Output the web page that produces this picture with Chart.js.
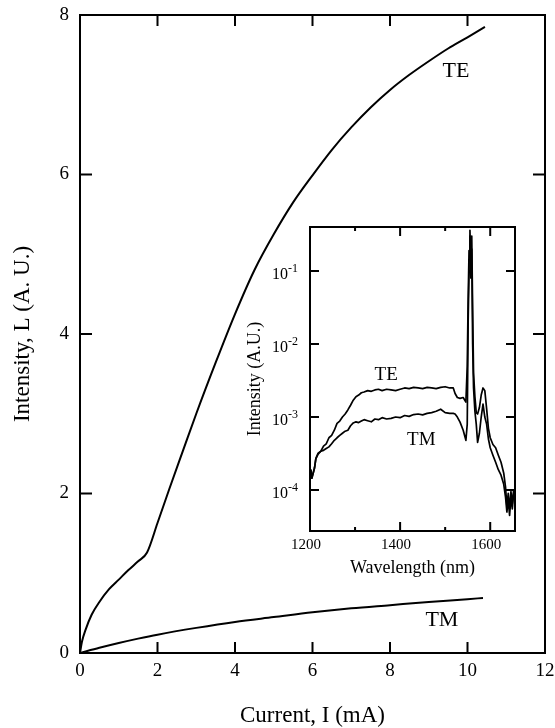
<!DOCTYPE html>
<html><head><meta charset="utf-8">
<script src="https://cdn.jsdelivr.net/npm/chart.js@4/dist/chart.umd.min.js"></script>
<style>
html,body{margin:0;padding:0;background:#fff;}
#wrap{position:relative;width:555px;height:728px;overflow:hidden;}
#main{position:absolute;left:0;top:0;}
#inset{position:absolute;left:230px;top:200px;}
</style></head><body>
<div id="wrap"><canvas id="main" width="555" height="728"></canvas><canvas id="inset" width="300" height="390"></canvas></div>
<script>
// ---------- main plot data ----------
const mainXTicks = [0, 2, 4, 6, 8, 10, 12];
const mainYTicks = [0, 2, 4, 6, 8];
const teCurrent = [0,0.05,0.15,0.3,0.5,0.75,1.0,1.25,1.5,1.73,2.0,2.3,2.66,3.0,3.5,4.0,4.5,5.0,5.5,6.0,6.5,7.0,7.5,8.0,8.5,9.0,9.5,10.0,10.45];
const teIntensity = [0,0.14,0.30,0.48,0.64,0.80,0.92,1.04,1.15,1.26,1.63,2.05,2.54,3.00,3.64,4.25,4.80,5.25,5.65,5.99,6.31,6.59,6.84,7.06,7.25,7.42,7.58,7.72,7.85];
const tmCurrent = [0,0.5,1,1.5,2,3,4,5,6,7,8,9,10,10.4];
const tmIntensity = [0,0.065,0.125,0.18,0.23,0.315,0.39,0.45,0.51,0.56,0.60,0.64,0.675,0.69];

// ---------- inset data ----------
const insetXTicks = [1200, 1300, 1400, 1500, 1600];
const insetXLabels = [1200, 1400, 1600];
const insetYTicks = [1e-4, 1e-3, 1e-2, 1e-1];
const wavelength = [1202,1204,1207,1210,1213,1218,1224,1230,1236,1242,1248,1254,1260,1266,1272,1278,1284,1290,1296,1302,1308,1314,1320,1328,1336,1344,1352,1360,1370,1380,1390,1400,1410,1420,1430,1440,1450,1460,1470,1480,1490,1500,1510,1518,1522,1527,1533,1540,1546,1549,1551,1553,1555,1557,1559,1561,1563,1566,1569,1572,1576,1580,1584,1588,1592,1596,1600,1606,1612,1618,1624,1630,1634,1637,1640,1643,1646,1649,1652];
const teSpectrum = [1.9e-4,1.45e-4,1.7e-4,2.0e-4,2.7e-4,3.1e-4,3.4e-4,4.0e-4,4.3e-4,5.2e-4,5.6e-4,6.6e-4,8.2e-4,8.8e-4,1.0e-3,1.1e-3,1.25e-3,1.45e-3,1.7e-3,1.9e-3,2.0e-3,2.15e-3,2.2e-3,2.3e-3,2.25e-3,2.35e-3,2.4e-3,2.3e-3,2.4e-3,2.35e-3,2.3e-3,2.4e-3,2.5e-3,2.45e-3,2.55e-3,2.5e-3,2.45e-3,2.55e-3,2.5e-3,2.45e-3,2.55e-3,2.6e-3,2.5e-3,2.5e-3,2.1e-3,1.85e-3,1.8e-3,1.85e-3,1.6e-3,5.0e-3,0.04,0.19,0.36,0.12,0.3,0.03,4e-3,1.9e-3,1.15e-3,1.1e-3,1.35e-3,2.0e-3,2.5e-3,2.3e-3,1.3e-3,7e-4,5.2e-4,4.2e-4,3.8e-4,3.0e-4,2.4e-4,1.7e-4,1.1e-4,6e-5,9e-5,5.5e-5,9.5e-5,6.5e-5,1.0e-4];
const tmSpectrum = [1.9e-4,1.45e-4,1.7e-4,2.0e-4,2.7e-4,3.2e-4,3.4e-4,3.5e-4,3.7e-4,3.9e-4,4.3e-4,4.8e-4,5.2e-4,5.6e-4,6.0e-4,6.4e-4,6.6e-4,7.6e-4,8.3e-4,8.6e-4,8.4e-4,8.8e-4,9.2e-4,8.9e-4,8.6e-4,9.4e-4,9.2e-4,9.8e-4,9.4e-4,9.6e-4,1.0e-3,9.8e-4,1.05e-3,1.02e-3,1.08e-3,1.1e-3,1.07e-3,1.12e-3,1.15e-3,1.2e-3,1.28e-3,1.15e-3,1.12e-3,1.12e-3,1.1e-3,1.0e-3,8.5e-4,6.6e-4,4.8e-4,8e-4,0.02,0.1,0.3,0.08,0.2,0.01,2.5e-3,1.2e-3,8e-4,4.5e-4,6e-4,1.0e-3,1.5e-3,1.0e-3,8e-4,5e-4,3.8e-4,3.0e-4,2.4e-4,1.9e-4,1.6e-4,1.2e-4,8e-5,5e-5,7.5e-5,4.5e-5,8e-5,5.5e-5,9e-5];

const SERIF = "'Liberation Serif','Times New Roman',serif";
const pts = (xs, ys) => xs.map((x, i) => ({x, y: ys[i]}));
const noPad = s => { s.paddingTop = 0; s.paddingBottom = 0; s.paddingLeft = 0; s.paddingRight = 0; };

// plugin: closed frame, inward ticks on all sides, in-plot labels
const framePlugin = {
  id: 'frame',
  afterDraw(chart, args, o) {
    const {ctx, chartArea: a} = chart;
    const xs = chart.scales.x, ys = chart.scales.y;
    ctx.save();
    ctx.strokeStyle = '#000';
    ctx.lineWidth = o.lineWidth;
    ctx.lineCap = 'square';
    ctx.strokeRect(a.left, a.top, a.right - a.left, a.bottom - a.top);
    ctx.lineCap = 'butt';
    ctx.beginPath();
    xs.ticks.forEach(t => {
      const px = xs.getPixelForValue(t.value);
      if (px <= a.left + 1 || px >= a.right - 1) return;
      const len = o.xLen(t.value);
      ctx.moveTo(px, a.bottom); ctx.lineTo(px, a.bottom - len);
      ctx.moveTo(px, a.top); ctx.lineTo(px, a.top + len);
    });
    ys.ticks.forEach(t => {
      const py = ys.getPixelForValue(t.value);
      if (py <= a.top + 1 || py >= a.bottom - 1) return;
      const len = o.yLen;
      ctx.moveTo(a.left, py); ctx.lineTo(a.left + len, py);
      ctx.moveTo(a.right, py); ctx.lineTo(a.right - len, py);
    });
    ctx.stroke();
    ctx.fillStyle = '#000';
    ctx.textAlign = 'center';
    ctx.textBaseline = 'middle';
    ctx.font = o.labelFont;
    o.labels.forEach(l => {
      ctx.fillText(l.text, xs.getPixelForValue(l.x), ys.getPixelForValue(l.y));
    });
    if (o.supLabels) {
      ys.ticks.forEach(t => {
        const py = ys.getPixelForValue(t.value);
        const e = Math.round(Math.log10(t.value));
        const supTxt = (e < 0 ? '-' : '') + Math.abs(e);
        ctx.textAlign = 'left';
        ctx.textBaseline = 'alphabetic';
        ctx.font = '12px ' + SERIF;
        const sw = ctx.measureText(supTxt).width;
        ctx.font = '16px ' + SERIF;
        const bw = ctx.measureText('10').width;
        const right = a.left - 12;
        ctx.fillText('10', right - sw - bw, py + 8);
        ctx.font = '12px ' + SERIF;
        ctx.fillText(supTxt, right - sw, py + 1);
      });
    }
    ctx.restore();
  }
};

const lineDs = (data, w, mode) => ({
  data, borderColor: '#000', borderWidth: w, pointRadius: 0, fill: false,
  tension: mode ? 0.4 : 0, cubicInterpolationMode: mode || 'default', showLine: true,
  borderJoinStyle: 'round'
});

// ---------- main chart ----------
new Chart(document.getElementById('main'), {
  type: 'scatter',
  data: { datasets: [
    lineDs(pts(teCurrent, teIntensity), 2, 'monotone'),
    lineDs(pts(tmCurrent, tmIntensity), 2, 'monotone')
  ]},
  options: {
    responsive: false, animation: false, devicePixelRatio: 1,
    layout: { padding: { top: 15, right: 10, left: 0, bottom: 0 }, autoPadding: false },
    plugins: {
      legend: { display: false }, tooltip: { enabled: false },
      frame: {
        lineWidth: 2, xLen: () => 11, yLen: 12,
        labelFont: '22px ' + SERIF,
        labels: [{text: 'TE', x: 9.7, y: 7.3}, {text: 'TM', x: 9.34, y: 0.41}]
      }
    },
    scales: {
      x: {
        type: 'linear', min: 0, max: 12,
        afterBuildTicks: s => { s.ticks = mainXTicks.map(v => ({value: v})); },
        afterFit: s => { s.height = 75; noPad(s); },
        grid: { display: false, drawTicks: false }, border: { display: false },
        ticks: { color: '#000', font: { family: SERIF, size: 19 }, padding: 7, maxRotation: 0, autoSkip: false },
        title: { display: true, text: 'Current, I (mA)', color: '#000', font: { family: SERIF, size: 23 }, padding: { top: 0, bottom: -2 } }
      },
      y: {
        type: 'linear', min: 0, max: 8,
        afterBuildTicks: s => { s.ticks = mainYTicks.map(v => ({value: v})); },
        afterFit: s => { s.width = 80; noPad(s); },
        grid: { display: false, drawTicks: false }, border: { display: false },
        ticks: { color: '#000', font: { family: SERIF, size: 19 }, padding: 11, autoSkip: false },
        title: { display: true, text: 'Intensity, L (A. U.)', color: '#000', font: { family: SERIF, size: 23 }, padding: { top: 9, bottom: 0 } }
      }
    }
  },
  plugins: [framePlugin]
});

// ---------- inset chart ----------
new Chart(document.getElementById('inset'), {
  type: 'scatter',
  data: { datasets: [
    lineDs(pts(wavelength, teSpectrum), 1.7),
    lineDs(pts(wavelength, tmSpectrum), 1.7)
  ]},
  options: {
    responsive: false, animation: false, devicePixelRatio: 1,
    layout: { padding: { top: 27, right: 15, left: 0, bottom: 0 }, autoPadding: false },
    plugins: {
      legend: { display: false }, tooltip: { enabled: false },
      frame: {
        lineWidth: 2, xLen: v => (insetXLabels.includes(v) ? 9 : 4), yLen: 9,
        labelFont: '19px ' + SERIF, supLabels: true,
        labels: [{text: 'TE', x: 1369, y: 3.8e-3}, {text: 'TM', x: 1447, y: 4.8e-4}]
      }
    },
    scales: {
      x: {
        type: 'linear', min: 1200, max: 1655,
        afterBuildTicks: s => { s.ticks = insetXTicks.map(v => ({value: v})); },
        afterFit: s => { s.height = 59; noPad(s); },
        grid: { display: false, drawTicks: false }, border: { display: false },
        ticks: { color: '#000', font: { family: SERIF, size: 15 }, padding: 5, labelOffset: -4, maxRotation: 0, autoSkip: false,
          callback: v => (insetXLabels.includes(v) ? String(v) : '') },
        title: { display: true, text: 'Wavelength (nm)', color: '#000', font: { family: SERIF, size: 18 }, padding: { top: 0, bottom: 11 } }
      },
      y: {
        type: 'logarithmic', min: 2.75e-5, max: 0.4,
        afterBuildTicks: s => { s.ticks = insetYTicks.map(v => ({value: v})); },
        afterFit: s => { s.width = 80; noPad(s); },
        grid: { display: false, drawTicks: false }, border: { display: false },
        ticks: { display: false },
        title: { display: true, text: 'Intensity (A.U.)', color: '#000', font: { family: SERIF, size: 18 }, padding: { top: 14, bottom: 0 } }
      }
    }
  },
  plugins: [framePlugin]
});
</script>
</body></html>
